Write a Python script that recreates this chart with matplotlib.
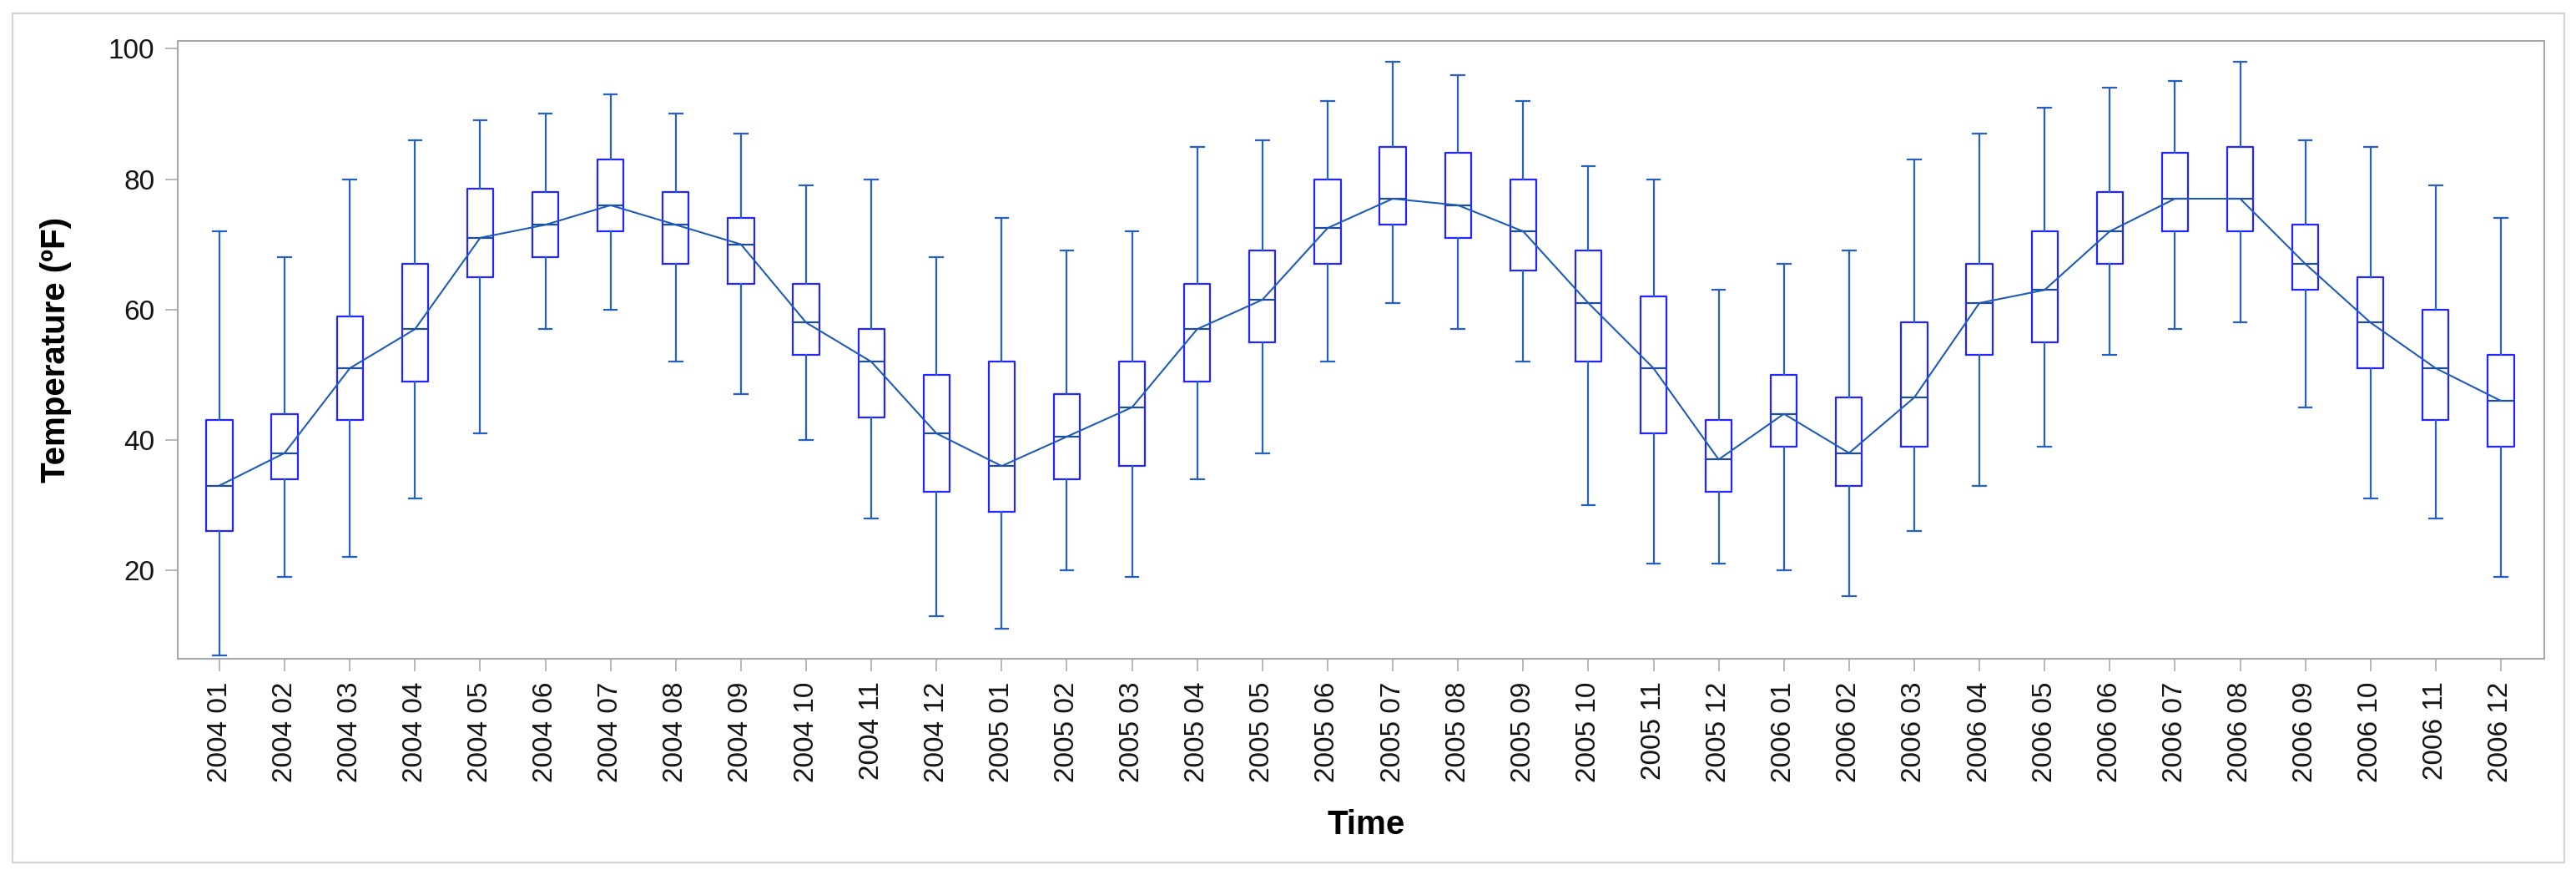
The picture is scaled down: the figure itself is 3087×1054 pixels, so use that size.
import numpy as np
import matplotlib as mpl
mpl.use('Agg')
import matplotlib.pyplot as plt
from matplotlib.patches import Rectangle

plt.rcParams['font.family'] = ['Liberation Sans', 'DejaVu Sans']

# monthly temperature summaries (deg F)
months = ['2004 01', '2004 02', '2004 03', '2004 04', '2004 05', '2004 06',
          '2004 07', '2004 08', '2004 09', '2004 10', '2004 11', '2004 12',
          '2005 01', '2005 02', '2005 03', '2005 04', '2005 05', '2005 06',
          '2005 07', '2005 08', '2005 09', '2005 10', '2005 11', '2005 12',
          '2006 01', '2006 02', '2006 03', '2006 04', '2006 05', '2006 06',
          '2006 07', '2006 08', '2006 09', '2006 10', '2006 11', '2006 12']

t_min = [7, 19, 22, 31, 41, 57, 60, 52, 47, 40, 28, 13,
         11, 20, 19, 34, 38, 52, 61, 57, 52, 30, 21, 21,
         20, 16, 26, 33, 39, 53, 57, 58, 45, 31, 28, 19]
t_q1 = [26, 34, 43, 49, 65, 68, 72, 67, 64, 53, 43.5, 32,
        29, 34, 36, 49, 55, 67, 73, 71, 66, 52, 41, 32,
        39, 33, 39, 53, 55, 67, 72, 72, 63, 51, 43, 39]
t_med = [33, 38, 51, 57, 71, 73, 76, 73, 70, 58, 52, 41,
         36, 40.5, 45, 57, 61.5, 72.5, 77, 76, 72, 61, 51, 37,
         44, 38, 46.5, 61, 63, 72, 77, 77, 67, 58, 51, 46]
t_q3 = [43, 44, 59, 67, 78.5, 78, 83, 78, 74, 64, 57, 50,
        52, 47, 52, 64, 69, 80, 85, 84, 80, 69, 62, 43,
        50, 46.5, 58, 67, 72, 78, 84, 85, 73, 65, 60, 53]
t_max = [72, 68, 80, 86, 89, 90, 93, 90, 87, 79, 80, 68,
         74, 69, 72, 85, 86, 92, 98, 96, 92, 82, 80, 63,
         67, 69, 83, 87, 91, 94, 95, 98, 86, 85, 79, 74]

W, H = 3087, 1054
fig = plt.figure(figsize=(W / 100, H / 100), dpi=100)

# light outer frame around the whole graph
fig.patches.append(Rectangle((15 / W, 21 / H), (3073 - 15) / W, (1033 - 16) / H,
                             transform=fig.transFigure, fill=False,
                             edgecolor='#d4d4d4', linewidth=1.6))

ax = fig.add_axes([212.7 / W, (H - 789) / H, (3049 - 212.7) / W, (789 - 49) / H])

pos = np.arange(len(months))
stats = []
for i in range(len(months)):
    stats.append(dict(whislo=t_min[i], q1=t_q1[i], med=t_med[i],
                      q3=t_q3[i], whishi=t_max[i], fliers=[]))

ax.bxp(stats, positions=pos, widths=0.4, capwidths=0.2, showfliers=False,
       boxprops=dict(color='#2424ff', linewidth=1.6),
       whiskerprops=dict(color='#2560c2', linewidth=1.6),
       capprops=dict(color='#2560c2', linewidth=1.6),
       medianprops=dict(color='#1d4c9c', linewidth=1.6))

ax.plot(pos, t_med, color='#1f5bb8', linewidth=1.5, zorder=5)

ax.set_xlim(-0.644, len(months) - 1 + 0.666)
ax.set_ylim(6.44, 101.2)
ax.set_yticks([20, 40, 60, 80, 100])
ax.set_xticks(pos)
ax.set_xticklabels(months, rotation=90)

for s in ax.spines.values():
    s.set_color('#a4a8ad')
    s.set_linewidth(1.5)
ax.tick_params(axis='both', length=10.8, width=1.4, color='#b8b8b8',
               labelsize=24, labelcolor='#141414', pad=9)

fig.text(1637 / W, (H - 999) / H, 'Time', ha='center', va='baseline',
         fontsize=29, fontweight='bold', color='black')
fig.text(67.5 / W, (H - 419) / H, 'Temperature (ºF)', ha='center', va='center',
         rotation=90, fontsize=29, fontweight='bold', color='black')

fig.savefig('out.png', dpi=100)
